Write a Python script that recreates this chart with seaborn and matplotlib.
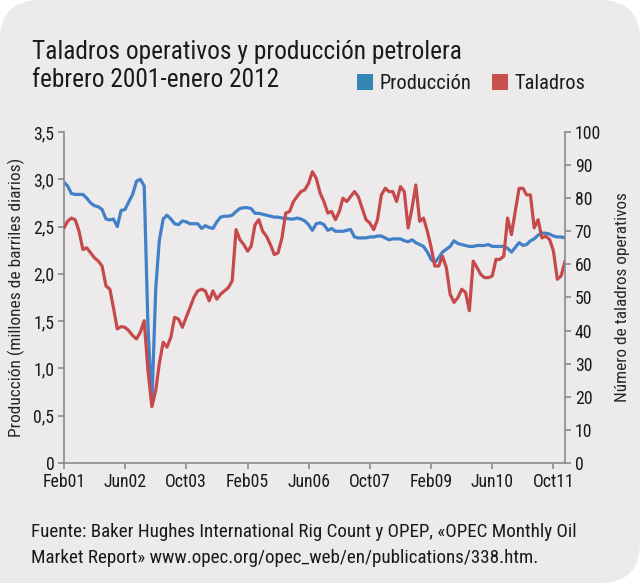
import matplotlib
matplotlib.use("Agg")
import matplotlib.pyplot as plt
import seaborn as sns
import pandas as pd
from matplotlib import font_manager
from matplotlib.patches import FancyBboxPatch, Rectangle, Patch

# datos (mensual, feb 2001 - ene 2012)
produccion = [
    2.97, 2.93, 2.85, 2.84, 2.84, 2.84, 2.80, 2.75, 2.72, 2.71,
    2.68, 2.58, 2.57, 2.58, 2.50, 2.67, 2.68, 2.76, 2.84, 2.98,
    3.00, 2.93, 1.45, 0.62, 1.85, 2.35, 2.58, 2.62, 2.58, 2.53,
    2.52, 2.56, 2.55, 2.53, 2.53, 2.53, 2.48, 2.51, 2.49, 2.48,
    2.55, 2.60, 2.61, 2.61, 2.62, 2.66, 2.69, 2.70, 2.70, 2.69,
    2.64, 2.64, 2.63, 2.62, 2.61, 2.60, 2.60, 2.59, 2.59, 2.58,
    2.58, 2.59, 2.58, 2.56, 2.52, 2.46, 2.53, 2.54, 2.52, 2.46,
    2.48, 2.45, 2.45, 2.45, 2.46, 2.47, 2.39, 2.38, 2.38, 2.38,
    2.39, 2.39, 2.40, 2.40, 2.38, 2.36, 2.37, 2.37, 2.37, 2.35,
    2.34, 2.36, 2.33, 2.31, 2.29, 2.23, 2.15, 2.12, 2.17, 2.23,
    2.26, 2.29, 2.35, 2.32, 2.31, 2.30, 2.29, 2.29, 2.30, 2.30,
    2.30, 2.31, 2.29, 2.29, 2.29, 2.29, 2.27, 2.23, 2.28, 2.33,
    2.30, 2.31, 2.35, 2.37, 2.41, 2.43, 2.43, 2.42, 2.40, 2.39,
    2.39, 2.38,
]
taladros = [
    71.0, 73.0, 74.0, 73.5, 70.0, 64.5, 65.0, 63.5, 62.0, 61.0,
    59.5, 53.5, 52.5, 47.0, 40.5, 41.2, 41.0, 40.0, 38.5, 37.5,
    39.5, 43.0, 28.0, 17.0, 22.0, 30.0, 36.5, 35.0, 38.0, 44.0,
    43.5, 41.0, 44.0, 47.0, 50.0, 52.0, 52.5, 52.0, 49.0, 52.0,
    49.5, 51.0, 52.0, 53.0, 55.0, 70.5, 67.5, 66.0, 64.0, 65.5,
    72.0, 73.5, 70.0, 68.5, 66.0, 63.0, 63.5, 68.0, 75.5, 76.0,
    79.0, 80.5, 82.0, 82.5, 84.5, 88.0, 86.0, 81.5, 79.0, 75.5,
    76.0, 73.5, 76.0, 80.0, 79.0, 80.5, 82.0, 80.5, 77.0, 73.5,
    72.5, 70.5, 73.5, 81.0, 83.0, 82.0, 82.0, 79.0, 83.5, 82.0,
    71.0, 77.0, 84.0, 73.0, 74.0, 70.0, 65.0, 59.5, 59.5, 62.5,
    59.0, 51.0, 48.5, 50.0, 52.5, 51.5, 46.0, 61.0, 59.0, 57.0,
    56.0, 56.0, 56.5, 61.5, 61.5, 62.5, 74.0, 69.0, 76.0, 83.0,
    83.0, 81.0, 81.0, 71.0, 73.5, 68.0, 68.5, 67.5, 64.0, 55.5,
    56.5, 61.0,
]
fechas = pd.date_range("2001-02-01", periods=len(produccion), freq="MS")
etiquetas_x = ["Feb01", "Jun02", "Oct03", "Feb05", "Jun06", "Oct07", "Feb09", "Jun10", "Oct11"]
ticks_izq = [0, 0.5, 1.0, 1.5, 2.0, 2.5, 3.0, 3.5]
etiquetas_izq = ["0", "0,5", "1,0", "1,5", "2,0", "2,5", "3,0", "3,5"]
ticks_der = list(range(0, 101, 10))

df = pd.DataFrame({"fecha": fechas, "produccion": produccion, "taladros": taladros})

FONDO = "#ECEAEB"
AZUL = "#4280C8"
ROJO = "#C64A4B"
AZUL_LEY = "#3385B4"
ROJO_LEY = "#C9504F"
GRIS = "#8C8C8C"
NEGRO = "#1a1a1a"

sns.set_theme(style="ticks")

# buscar una fuente estrecha entre las instaladas
fuentes = font_manager.fontManager.ttflist
def hay(nombre, estrecha=False):
    return any(f.name == nombre and (not estrecha or "cond" in str(f.stretch) or "narrow" in str(f.stretch))
               for f in fuentes)

familia, estiramiento = "DejaVu Sans", "normal"
for nombre in ["Liberation Sans Narrow", "Roboto Condensed", "Open Sans Condensed", "Noto Sans Condensed"]:
    if hay(nombre):
        familia = nombre
        break
else:
    if hay("DejaVu Sans", estrecha=True):
        familia, estiramiento = "DejaVu Sans", "condensed"
    elif hay("Noto Sans", estrecha=True):
        familia, estiramiento = "Noto Sans", "condensed"
    elif hay("Roboto"):
        familia = "Roboto"
plt.rcParams["font.family"] = [familia, "DejaVu Sans"]
plt.rcParams["font.stretch"] = estiramiento
plt.rcParams["text.color"] = NEGRO

fig = plt.figure(figsize=(6.4, 5.83), dpi=100, facecolor="white")
rend = fig.canvas.get_renderer()

def medir(txt, tam, rot=0):
    t = fig.text(0, 0, txt, fontsize=tam, rotation=rot)
    bb = t.get_window_extent(rend)
    t.remove()
    return bb.height if rot else bb.width

def tam_para(txt, ancho, maximo):
    return min(maximo, 20 * ancho / medir(txt, 20))

# fondo gris con esquinas redondeadas
fig.add_artist(FancyBboxPatch((0, 0), 6.4, 5.83, boxstyle="round,pad=0,rounding_size=0.4",
                              transform=fig.dpi_scale_trans, fc=FONDO, ec="none", zorder=-10))
fig.add_artist(Rectangle((0, 0), 0.6, 0.6, transform=fig.dpi_scale_trans,
                         fc=FONDO, ec="none", zorder=-10))

ax = fig.add_axes([64 / 640, 1 - 463 / 583, (565 - 64) / 640, (463 - 132) / 583])
ax.set_facecolor("none")
sns.lineplot(data=df, x="fecha", y="produccion", ax=ax, color=AZUL, linewidth=2.3)
ax2 = ax.twinx()
sns.lineplot(data=df, x="fecha", y="taladros", ax=ax2, color=ROJO, linewidth=2.3)

ax.set_xlim(fechas[0], fechas[-1])
ax.set_ylim(0, 3.5)
ax2.set_ylim(0, 100)
ax.set_xticks(fechas[::16])
ax.set_xticklabels(etiquetas_x)
ax.set_yticks(ticks_izq)
ax.set_yticklabels(etiquetas_izq)
ax2.set_yticks(ticks_der)

tam_ticks = tam_para("Feb01", 43, 15.5)
for a in (ax, ax2):
    a.spines["top"].set_visible(False)
    for s in ("left", "right", "bottom"):
        a.spines[s].set_color(GRIS)
        a.spines[s].set_linewidth(1.2)
    a.tick_params(axis="both", colors=GRIS, labelcolor=NEGRO, labelsize=tam_ticks,
                  length=4, width=1.2, pad=3)
ax.spines["right"].set_visible(False)
ax2.spines["left"].set_visible(False)
ax2.spines["bottom"].set_visible(False)

ax.set_xlabel("")
lab_izq = "Producción (millones de barriles diarios)"
lab_der = "Número de taladros operativos"
ax.set_ylabel(lab_izq, fontsize=tam_para(lab_izq, 277, 15), labelpad=6)
ax2.set_ylabel(lab_der, fontsize=tam_para(lab_der, 210, 15), labelpad=10)

titulo1 = "Taladros operativos y producción petrolera"
titulo2 = "febrero 2001-enero 2012"
tam_tit = tam_para(titulo1, 429, 21)
fig.text(32 / 640, 1 - 59 / 583, titulo1, fontsize=tam_tit, ha="left", va="baseline")
fig.text(32 / 640, 1 - 87 / 583, titulo2, fontsize=tam_tit, ha="left", va="baseline")

manejadores = [Patch(facecolor=AZUL_LEY, edgecolor="none", label="Producción"),
               Patch(facecolor=ROJO_LEY, edgecolor="none", label="Taladros")]
fig.legend(handles=manejadores, loc="lower left", bbox_to_anchor=(357 / 640, 1 - 93 / 583),
           ncol=2, frameon=False, fontsize=tam_para("Producción", 91, 16),
           handlelength=0.8, handleheight=0.8,
           handletextpad=0.3, columnspacing=1.0, borderaxespad=0, borderpad=0)

fuente1 = "Fuente: Baker Hughes International Rig Count y OPEP, «OPEC Monthly Oil"
fuente2 = "Market Report» www.opec.org/opec_web/en/publications/338.htm."
tam_fu = tam_para(fuente1, 543, 14)
fig.text(31 / 640, 1 - 537 / 583, fuente1, fontsize=tam_fu, ha="left", va="baseline")
fig.text(31 / 640, 1 - 563 / 583, fuente2, fontsize=tam_fu, ha="left", va="baseline")

fig.savefig("out.png", dpi=100, facecolor="white")
